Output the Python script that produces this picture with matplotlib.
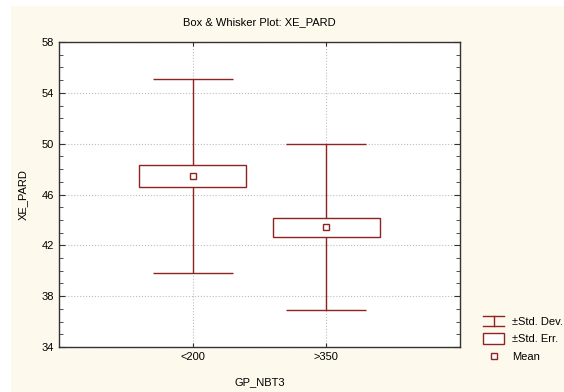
import matplotlib
matplotlib.use("Agg")
import matplotlib.pyplot as plt
from matplotlib.patches import Rectangle
from matplotlib.lines import Line2D
from matplotlib.legend_handler import HandlerBase
from matplotlib.ticker import MultipleLocator

# values
groups = ["<200", ">350"]
means = [47.45, 43.43]
std_err = [0.88, 0.75]
std_dev = [7.62, 6.55]
y_ticks = [34, 38, 42, 46, 50, 54, 58]

red = "#8e2323"
cream = "#fef9ed"

plt.rcParams["font.family"] = ["Liberation Sans", "DejaVu Sans"]
plt.rcParams["font.size"] = 8

fig = plt.figure(figsize=(5.64, 3.92), dpi=100, facecolor="white")
fig.patches.append(Rectangle((11 / 564, 0), 1, 1 - 6 / 392, transform=fig.transFigure,
                             facecolor=cream, edgecolor="none", zorder=-10))

ax = fig.add_axes([59 / 564, 1 - 347 / 392, 401 / 564, 305 / 392])
ax.set_facecolor("white")

xs = list(range(1, len(groups) + 1))
for x, m, se, sd in zip(xs, means, std_err, std_dev):
    ax.vlines(x, m - sd, m + sd, color=red, lw=1, zorder=3)
    ax.hlines([m - sd, m + sd], x - 0.3, x + 0.3, color=red, lw=1, zorder=3)
    ax.add_patch(Rectangle((x - 0.4, m - se), 0.8, 2 * se, facecolor="white",
                           edgecolor=red, lw=1, zorder=4))
ax.plot(xs, means, "s", ms=4, mfc="white", mec=red, mew=1, ls="none", zorder=5)

ax.set_xlim(0, 3)
ax.set_ylim(34, 58)
ax.set_xticks(xs)
ax.set_xticklabels(groups)
ax.set_yticks(y_ticks)
ax.yaxis.set_minor_locator(MultipleLocator(1))
ax.tick_params(axis="y", which="both", direction="in", left=True, right=True, length=3, color="#333333")
ax.tick_params(axis="y", which="major", length=4)
ax.tick_params(axis="x", direction="in", length=3, color="#333333", top=True)
ax.grid(True, ls=":", color="#bdbdbd", lw=0.8)
ax.set_axisbelow(True)
for s in ax.spines.values():
    s.set_color("#333333")
    s.set_linewidth(1)

ax.set_title("Box & Whisker Plot: XE_PARD", fontsize=8, pad=12)
ax.set_xlabel("GP_NBT3", fontsize=8, labelpad=11)
ax.set_ylabel("XE_PARD", fontsize=8, labelpad=10)


class IBeamHandler(HandlerBase):
    def create_artists(self, legend, orig, xd, yd, w, h, fs, trans):
        y0, y1 = -yd, -yd + h
        xm = -xd + w / 2
        return [Line2D([-xd, -xd + w], [y0, y0], color=red, lw=1, transform=trans),
                Line2D([-xd, -xd + w], [y1, y1], color=red, lw=1, transform=trans),
                Line2D([xm, xm], [y0, y1], color=red, lw=1, transform=trans)]


class BoxHandler(HandlerBase):
    def create_artists(self, legend, orig, xd, yd, w, h, fs, trans):
        return [Rectangle((-xd, -yd), w, h, facecolor="white", edgecolor=red, lw=1, transform=trans)]


class MeanHandler(HandlerBase):
    def create_artists(self, legend, orig, xd, yd, w, h, fs, trans):
        return [Line2D([-xd + w / 2], [-yd + h / 2], marker="s", ms=4, mfc="white",
                       mec=red, mew=1, ls="none", transform=trans)]


h_sd, h_se, h_mean = object(), object(), object()
fig.legend([h_sd, h_se, h_mean], ["±Std. Dev.", "±Std. Err.", "Mean"],
           handler_map={h_sd: IBeamHandler(), h_se: BoxHandler(), h_mean: MeanHandler()},
           loc="lower left", bbox_to_anchor=(473 / 564, 1 - 372 / 392),
           frameon=False, fontsize=8, handlelength=1.9, handleheight=1.05,
           handletextpad=0.7, labelspacing=0.6)

fig.savefig("out.png", dpi=100, facecolor=fig.get_facecolor())
